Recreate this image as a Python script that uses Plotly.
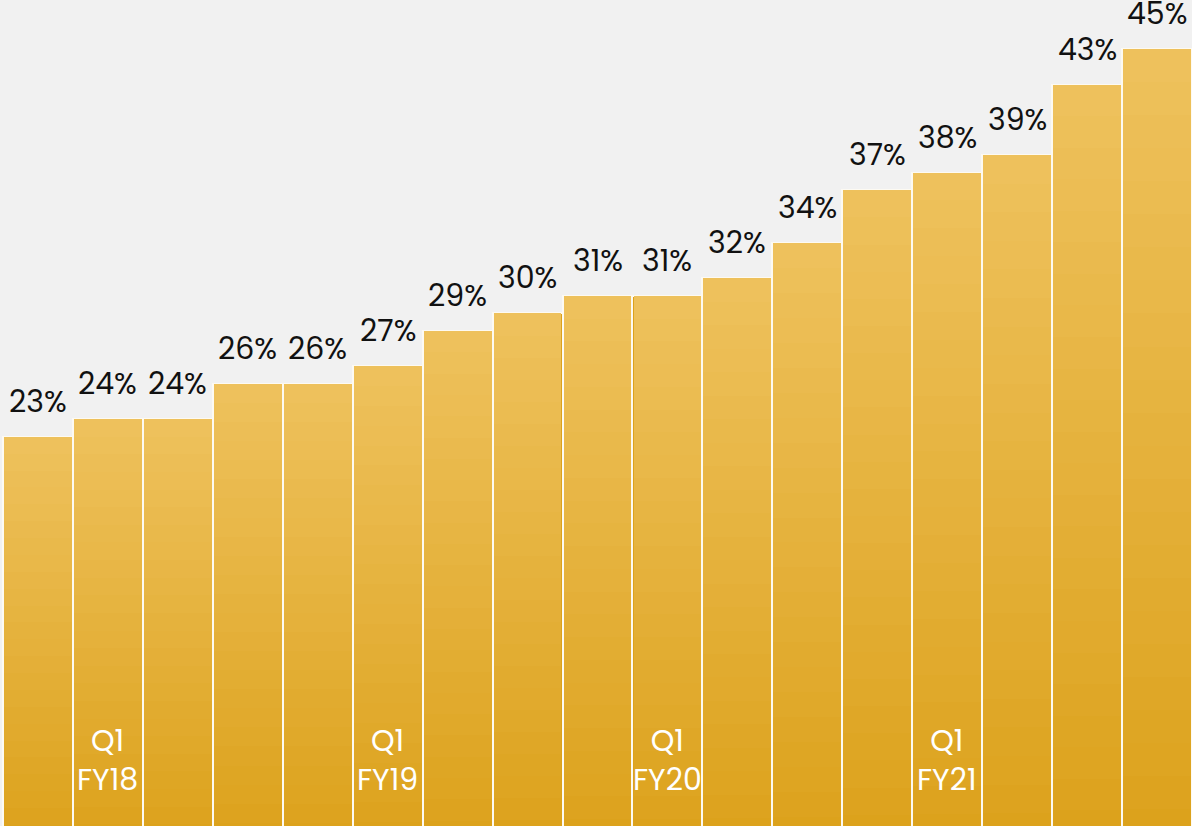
import plotly.graph_objects as go

quarters = ["Q4 FY17", "Q1 FY18", "Q2 FY18", "Q3 FY18", "Q4 FY18",
            "Q1 FY19", "Q2 FY19", "Q3 FY19", "Q4 FY19",
            "Q1 FY20", "Q2 FY20", "Q3 FY20", "Q4 FY20",
            "Q1 FY21", "Q2 FY21", "Q3 FY21", "Q4 FY21"]
values = [23, 24, 24, 26, 26, 27, 29, 30, 31, 31, 32, 34, 37, 38, 39, 43, 45]
marked_quarters = ["Q1 FY18", "Q1 FY19", "Q1 FY20", "Q1 FY21"]
marked_labels = ["Q1<br>FY18", "Q1<br>FY19", "Q1<br>FY20", "Q1<br>FY21"]

BOTTOM = (220, 162, 28)
TOP = (238, 193, 92)
FONT = "Poppins, Inter, Lato, sans-serif"

fig = go.Figure()
# base bars (with light separators)
fig.add_trace(go.Bar(
    x=quarters, y=values, width=1.0,
    marker=dict(color="rgb(%d,%d,%d)" % BOTTOM, line=dict(color="#fdfaf2", width=2)),
    hoverinfo="skip", showlegend=False))

# gradient layers (each covers the upper part of its bar)
N = 24
for k in range(1, N):
    t = k / (N - 1)
    c = tuple(round(BOTTOM[i] + (TOP[i] - BOTTOM[i]) * t) for i in range(3))
    bases = [v * k / N for v in values]
    heights = [v - b for v, b in zip(values, bases)]
    fig.add_trace(go.Bar(
        x=quarters, y=heights, base=bases, width=0.97,
        marker=dict(color="rgb(%d,%d,%d)" % c, line=dict(width=0)),
        hoverinfo="skip", showlegend=False))

annotations = []
for q, v in zip(quarters, values):
    annotations.append(dict(
        x=q, y=v, xref="x", yref="y", text=f"{v}%", showarrow=False,
        yanchor="bottom", yshift=12, font=dict(family=FONT, size=30, color="#111111")))
for q, lab in zip(marked_quarters, marked_labels):
    annotations.append(dict(
        x=q, y=0.0793, xref="x", yref="paper", text=lab, showarrow=False,
        yanchor="middle", font=dict(family=FONT, size=30, color="#ffffff")))

fig.update_layout(
    width=1192, height=826,
    margin=dict(l=0, r=0, t=0, b=0),
    paper_bgcolor="#f1f1f1", plot_bgcolor="#f1f1f1",
    barmode="overlay", bargap=0,
    xaxis=dict(visible=False, range=[-0.543, 16.5]),
    yaxis=dict(visible=False, range=[0.9, 47.8]),
    annotations=annotations,
)

fig.write_html("out.html", config={"displayModeBar": False},
               post_script="document.body.style.margin='0';document.body.style.overflow='hidden';document.body.style.background='#f1f1f1';")
